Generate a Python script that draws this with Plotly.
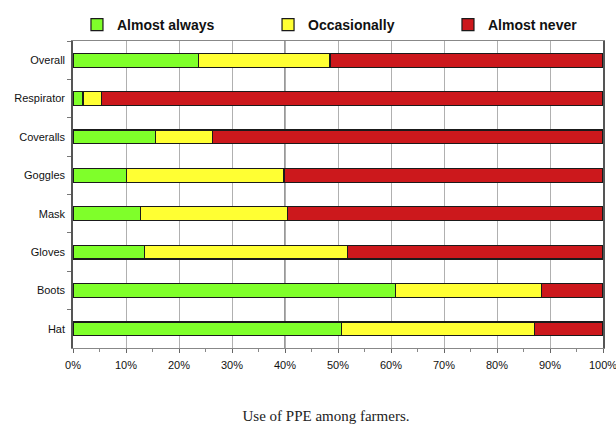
import plotly.graph_objects as go

categories = ["Overall", "Respirator", "Coveralls", "Goggles", "Mask", "Gloves", "Boots", "Hat"]
almost_always = [23.7, 1.9, 15.5, 10.1, 12.8, 13.5, 60.9, 50.6]
occasionally = [24.8, 3.5, 10.8, 29.7, 27.7, 38.3, 27.5, 36.5]
almost_never = [51.5, 94.6, 73.7, 60.2, 59.5, 48.2, 11.6, 12.9]
series_names = ["Almost always", "Occasionally", "Almost never"]
series_colors = ["#7FFF2A", "#FFFF33", "#CC181C"]
x_ticks = list(range(0, 101, 10))
x_tick_labels = [f"{v}%" for v in x_ticks]

legend_ids = ["legend", "legend2", "legend3"]
legend_x = [0.0075, 0.368, 0.7075]

fig = go.Figure()
for name, vals, col, lid in zip(series_names, [almost_always, occasionally, almost_never], series_colors, legend_ids):
    fig.add_trace(go.Bar(
        y=categories, x=vals, name=name, orientation="h",
        marker=dict(color=col, line=dict(color="#1a1a1a", width=1.2)),
        width=0.36, legend=lid, showlegend=True,
    ))

legend_common = dict(
    orientation="h", y=1.052, xanchor="left", yanchor="middle",
    font=dict(size=14, weight="bold", color="#111"),
    bgcolor="rgba(0,0,0,0)", visible=True,
)

fig.update_layout(
    width=616, height=426,
    barmode="stack",
    showlegend=True,
    plot_bgcolor="white", paper_bgcolor="white",
    margin=dict(l=73, r=13, t=41, b=78, autoexpand=False),
    font=dict(family="Liberation Sans, Arial, sans-serif", size=11, color="#111"),
    legend=dict(x=legend_x[0], **legend_common),
    legend2=dict(x=legend_x[1], **legend_common),
    legend3=dict(x=legend_x[2], **legend_common),
    title=dict(
        text="Use of PPE among farmers.",
        font=dict(family="Liberation Serif, Times New Roman, serif", size=15, color="#222"),
        x=326 / 616, xanchor="center", xref="container",
        y=(426 - 416) / 426, yanchor="middle", yref="container",
    ),
    shapes=[dict(type="line", xref="x", yref="paper", x0=40, x1=40, y0=0, y1=1,
                 line=dict(color="#333", width=1), layer="below")],
)

fig.update_xaxes(
    range=[0, 100], tickvals=x_ticks, ticktext=x_tick_labels,
    showgrid=True, gridcolor="#b0b0b0", gridwidth=1,
    showline=True, linecolor="#888", linewidth=1, mirror=True,
    ticks="outside", ticklen=4, tickcolor="#666",
    minor=dict(dtick=5, ticks="outside", ticklen=3, tickcolor="#888", showgrid=False),
    zeroline=False, automargin=False, ticklabeloverflow="allow",
    ticklabelstandoff=3,
    tickfont=dict(size=11, color="#111"),
)
fig.update_yaxes(
    categoryorder="array", categoryarray=categories, autorange="reversed",
    showline=True, linecolor="#555", linewidth=1.5, mirror=True,
    ticks="outside", tickson="boundaries", ticklen=4, tickcolor="#777",
    showgrid=False, automargin=False, ticklabelstandoff=4,
    tickfont=dict(size=11, color="#111"),
)

fig.write_html("out.html")
